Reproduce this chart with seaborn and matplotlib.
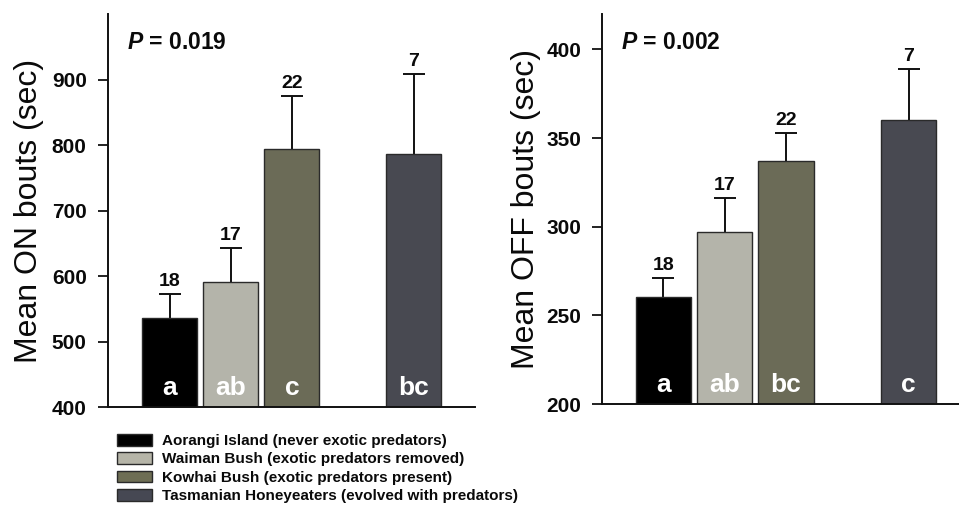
import numpy as np
import pandas as pd
import matplotlib
matplotlib.use("Agg")
import matplotlib.pyplot as plt
from matplotlib.patches import Patch
import seaborn as sns

# ---- data ----
groups = ["Aorangi Island (never exotic predators)",
          "Waiman Bush (exotic predators removed)",
          "Kowhai Bush (exotic predators present)",
          "Tasmanian Honeyeaters (evolved with predators)"]
sample_sizes = [18, 17, 22, 7]
on_means = [536, 591, 794, 786]
on_se = [36, 52, 81, 122]
on_letters = ["a", "ab", "c", "bc"]
off_means = [260.5, 297, 337, 360]
off_se = [10.5, 19, 16, 29]
off_letters = ["a", "ab", "bc", "c"]
on_ticks = [400, 500, 600, 700, 800, 900]
off_ticks = [200, 250, 300, 350, 400]
p_on = "0.019"
p_off = "0.002"

# ---- style ----
colors = ["#000000", "#b6b5a8", "#6e6e54", "#464853"]
positions = [0, 1, 2, 4]

sns.set_theme(style="ticks")
plt.rcParams["font.family"] = ["Liberation Sans", "DejaVu Sans"]
plt.rcParams["text.color"] = "#0a0a0a"
plt.rcParams["axes.labelcolor"] = "#0a0a0a"
plt.rcParams["ytick.color"] = "#0a0a0a"
plt.rcParams["mathtext.fontset"] = "custom"
plt.rcParams["mathtext.it"] = "Liberation Sans:italic:bold"
plt.rcParams["mathtext.rm"] = "Liberation Sans:bold"

fig = plt.figure(figsize=(9.59, 5.09), dpi=100)
W, H = 959, 509
ax1 = fig.add_axes([107.5 / W, 1 - 407 / H, 367.5 / W, 393 / H])
ax2 = fig.add_axes([602 / W, 1 - 404 / H, 357 / W, 390 / H])

def panel(ax, means, se, letters, ylim, ticks, ylabel, pval, xlim, labelx):
    df = pd.DataFrame({"pos": positions, "val": means, "grp": groups})
    sns.barplot(data=df, x="pos", y="val", hue="grp", palette=colors,
                native_scale=True, width=0.9, dodge=False, legend=False,
                edgecolor="#2a2a2a", linewidth=1.0, ax=ax, zorder=2)
    cont = ax.errorbar(positions, means, yerr=[np.zeros(len(se)), se], fmt="none",
                       ecolor="#111111", elinewidth=1.4, capsize=8, capthick=1.4,
                       zorder=1)
    cont[1][0].set_visible(False)  # hide the lower caps
    for x, m, s, n, let in zip(positions, means, se, sample_sizes, letters):
        ax.annotate(str(n), (x, m + s), xytext=(0, 3), textcoords="offset points",
                    ha="center", va="bottom", fontsize=14, fontweight="bold")
        ax.annotate(let, (x, ylim[0]), xytext=(0, 9), textcoords="offset points",
                    ha="center", va="baseline", fontsize=19, fontweight="bold",
                    color="white", zorder=5)
    ax.set_ylim(*ylim)
    ax.set_xlim(*xlim)
    ax.set_yticks(ticks)
    ax.set_yticklabels([str(t) for t in ticks], fontweight="bold", fontsize=15)
    ax.set_xticks([])
    ax.set_xlabel("")
    ax.set_ylabel(ylabel, fontsize=23)
    ax.yaxis.set_label_coords(labelx, 0.5)
    ax.tick_params(axis="y", length=7, width=1.3, pad=8, color="#111111")
    for sp in ["left", "bottom"]:
        ax.spines[sp].set_linewidth(1.4)
        ax.spines[sp].set_color("#111111")
    sns.despine(ax=ax)
    ax.text(0.053, 0.928, r"$P$ = " + pval, transform=ax.transAxes,
            fontsize=16.5, fontweight="bold", ha="left", va="center")

panel(ax1, on_means, on_se, on_letters, (400, 1000), on_ticks,
      "Mean ON bouts (sec)", p_on, (-1.02, 5.0), -0.172)
panel(ax2, off_means, off_se, off_letters, (200, 420), off_ticks,
      "Mean OFF bouts (sec)", p_off, (-1.0, 4.82), -0.17)

handles = [Patch(facecolor=c, edgecolor="#2a2a2a", linewidth=1.0) for c in colors]
fig.legend(handles, groups, loc="upper left",
           bbox_to_anchor=(117 / W, 1 - 434 / H), frameon=False,
           borderpad=0, borderaxespad=0, handlelength=2.3, handleheight=0.8,
           handletextpad=0.65, labelspacing=0.27,
           prop={"weight": "bold", "size": 11})

fig.savefig("out.png", dpi=100)
